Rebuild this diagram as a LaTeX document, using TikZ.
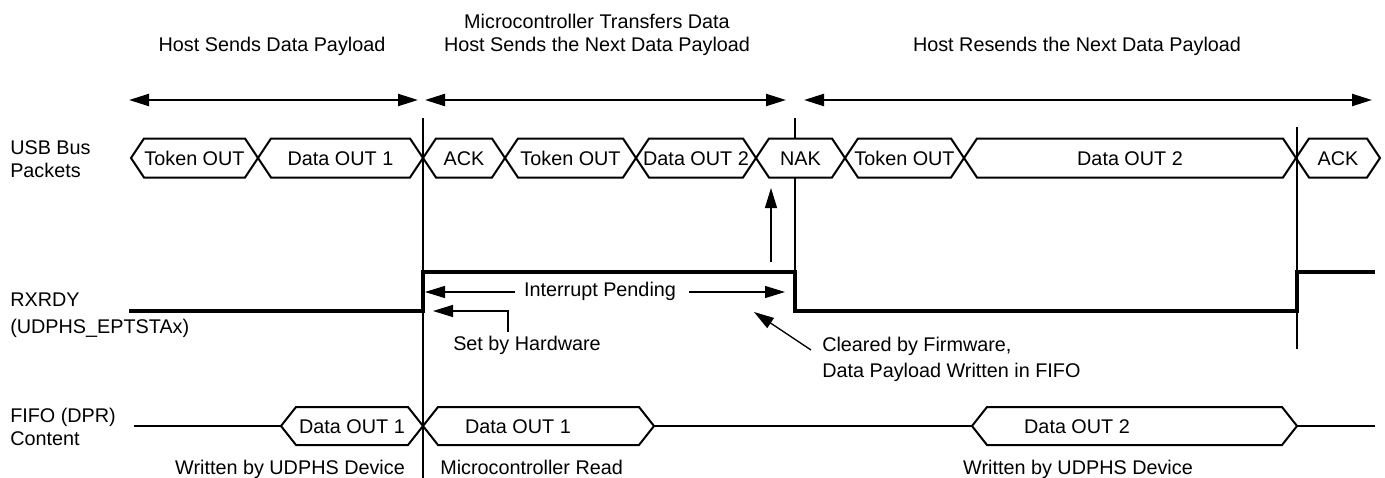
\documentclass[tikz,border=0pt]{standalone}
\usepackage{fontspec}
\setmainfont{Liberation Sans}
\usetikzlibrary{arrows.meta}
\tikzset{
  lbl/.style={font=\fontsize{14.85}{17}\selectfont, inner sep=0pt},
  bus/.style={line width=1.5pt, line join=miter},
  sig/.style={line width=2.4pt, line join=miter},
  guide/.style={line width=1pt},
  span/.style={line width=1.7pt, {Triangle[length=15pt,width=9pt]}-{Triangle[length=15pt,width=9pt]}},
  note/.style={line width=1pt, -{Triangle[length=15pt,width=9pt]}},
}
\newcommand\busseg[4]{%
  \draw[bus] (#1,158) -- ({#1+13},138.5) -- ({#2-13},138.5) -- (#2,158) -- ({#2-13},177.5) -- ({#1+13},177.5) -- cycle;
  \node[lbl, anchor=base] (#3) at ({(#1+#2)/2},165) {#4};
}
\newcommand\fifoseg[5]{%
  \draw[bus] (#1,426) -- ({#1+15},407) -- ({#2-15},407) -- (#2,426) -- ({#2-15},445) -- ({#1+15},445) -- cycle;
  \node[lbl, anchor=base] (#4) at (#3,433) {#5};
}
\begin{document}
\begin{tikzpicture}[x=0.75pt, y=-0.75pt]
\useasboundingbox (0,0) rectangle (1385,478);

% phase titles
\node[lbl, anchor=base] (h1) at (272,52) {Host Sends Data Payload};
\node[lbl, anchor=base] (h2a) at (597,29) {Microcontroller Transfers Data};
\node[lbl, anchor=base] (h2b) at (597,52) {Host Sends the Next Data Payload};
\node[lbl, anchor=base] (h3) at (1077,52) {Host Resends the Next Data Payload};

% phase spans
\coordinate (s1a) at (129,100); \coordinate (s1b) at (418,100);
\coordinate (s2a) at (425,100); \coordinate (s2b) at (786,100);
\coordinate (s3a) at (804,100); \coordinate (s3b) at (1372,100);
\draw[span] (s1a) -- (s1b);
\draw[span] (s2a) -- (s2b);
\draw[span] (s3a) -- (s3b);

% guide lines
\coordinate (g1t) at (423,118); \coordinate (g1b) at (423,478);
\coordinate (g2t) at (795,118); \coordinate (g2m) at (795,138.5);
\coordinate (g2n) at (795,177.5); \coordinate (g2b) at (795,311);
\coordinate (g3t) at (1297,127); \coordinate (g3b) at (1297,349);
\draw[guide] (g1t) -- (g1b);
\draw[guide] (g2t) -- (g2m);
\draw[guide] (g2n) -- (g2b);
\draw[guide] (g3t) -- (g3b);

% row labels
\node[lbl, anchor=base west] (usb1) at (10,154) {USB Bus};
\node[lbl, anchor=base west] (usb2) at (10,177) {Packets};
\node[lbl, anchor=base west] (rx1) at (10,306) {RXRDY};
\node[lbl, anchor=base west] (rx2) at (10,333) {(UDPHS\_EPTSTAx)};
\node[lbl, anchor=base west] (ff1) at (10,422) {FIFO (DPR)};
\node[lbl, anchor=base west] (ff2) at (10,445) {Content};

% USB bus packets
\busseg{131}{258}{tok1}{Token OUT}
\busseg{258}{423}{dat1}{Data OUT 1}
\busseg{423}{505}{ack1}{ACK}
\busseg{505}{636}{tok2}{Token OUT}
\busseg{636}{756}{dat2}{Data OUT 2}
\busseg{756}{845}{nak}{NAK}
\busseg{845}{964}{tok3}{Token OUT}
\busseg{964}{1296}{dat3}{Data OUT 2}
\busseg{1296}{1380}{ack2}{ACK}

% RXRDY signal
\draw[sig] (129,311) -- (423,311) -- (423,272) -- (795,272) -- (795,311) -- (1297,311) -- (1297,272) -- (1375,272);

% annotations on RXRDY
\node[lbl, anchor=base] (ip) at (600,296) {Interrupt Pending};
\coordinate (ipL) at (515,292); \coordinate (ipLt) at (425,292);
\coordinate (ipR) at (689,292); \coordinate (ipRt) at (785,292);
\draw[note] (ipL) -- (ipLt);
\draw[note] (ipR) -- (ipRt);

\node[lbl, anchor=base west] (sh) at (453,350) {Set by Hardware};
\coordinate (shA) at (508,332); \coordinate (shB) at (508,311); \coordinate (shT) at (433,311);
\draw[note] (shA) -- (shB) -- (shT);

\coordinate (upA) at (771,262); \coordinate (upT) at (771,188);
\draw[note] (upA) -- (upT);

\node[lbl, anchor=base west] (cf1) at (822,351) {Cleared by Firmware,};
\node[lbl, anchor=base west] (cf2) at (822,377) {Data Payload Written in FIFO};
\coordinate (cfA) at (811,350); \coordinate (cfT) at (754,312);
\draw[note] (cfA) -- (cfT);

% FIFO content
\draw[bus] (134,426) -- (281,426);
\fifoseg{281}{423}{352}{f1}{Data OUT 1}
\fifoseg{423}{654}{518}{f2}{Data OUT 1}
\draw[bus] (654,426) -- (972,426);
\fifoseg{972}{1297}{1077}{f3}{Data OUT 2}
\draw[bus] (1297,426) -- (1375,426);

% bottom notes
\node[lbl, anchor=base] (w1) at (290,474) {Written by UDPHS Device};
\node[lbl, anchor=base west] (mr) at (440,474) {Microcontroller Read};
\node[lbl, anchor=base] (w2) at (1078,474) {Written by UDPHS Device};
\end{tikzpicture}
\end{document}
